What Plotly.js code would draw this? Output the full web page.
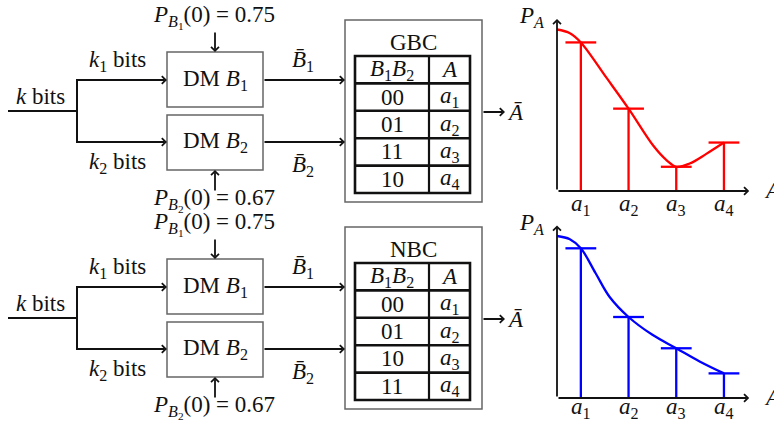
<!DOCTYPE html>
<html><head><meta charset="utf-8">
<script src="https://cdn.plot.ly/plotly-3.0.1.min.js"></script>
<style>html,body{margin:0;padding:0;background:#fff;}</style>
</head><body><div id="chart" style="width:774px;height:423px;"></div>
<script>
// ---- data ----
const levels = ['a1', 'a2', 'a3', 'a4'];
const levelX = [1, 2, 3, 4];
const gbcCodes = ['00', '01', '11', '10'];
const nbcCodes = ['00', '01', '10', '11'];
const gbcProb = [0.92, 0.51, 0.15, 0.30];
const nbcProb = [0.924, 0.50, 0.307, 0.152];
const gbcCurveX = [0.5, 0.77, 1.0, 1.54, 2.0, 2.52, 2.8, 3.0, 3.28, 3.63, 4.0];
const gbcCurveY = [1.0, 0.977, 0.92, 0.70, 0.51, 0.28, 0.19, 0.15, 0.17, 0.23, 0.30];
const nbcCurveX = [0.5, 0.77, 1.0, 1.31, 1.6, 2.0, 2.5, 3.0, 3.5, 4.0];
const nbcCurveY = [1.0, 0.98, 0.924, 0.77, 0.625, 0.50, 0.39, 0.307, 0.224, 0.152];
const pB1 = '0.75', pB2 = '0.67';

// ---- styling helpers ----
const FONT = '"Liberation Serif", "Times New Roman", serif';
const FS = 23;
const INK = '#111';
const lvlHtml = s => '<i>' + s[0] + '</i><sub>' + s.slice(1) + '</sub>';

const shapes = [];
const annotations = [];
function line(x0, y0, x1, y1, w, c) {
  shapes.push({type: 'line', xref: 'x', yref: 'y', x0, y0, x1, y1, line: {color: c || INK, width: w || 2}});
}
function rect(x0, y0, x1, y1, w, c) {
  shapes.push({type: 'rect', xref: 'x', yref: 'y', x0, y0, x1, y1, line: {color: c || '#666', width: w || 1.5}, fillcolor: 'rgba(0,0,0,0)'});
}
function arrow(ax, ay, x, y, xr, yr) {
  annotations.push({xref: xr || 'x', yref: yr || 'y', axref: xr || 'x', ayref: yr || 'y', x, y, ax, ay,
    text: '', showarrow: true, arrowhead: 4, arrowsize: 0.85, arrowwidth: 1.8, arrowcolor: INK});
}
function txt(x, y, text, size, xanchor, xr, yr) {
  annotations.push({xref: xr || 'x', yref: yr || 'y', x, y, text, showarrow: false, xanchor: xanchor || 'center', yanchor: 'middle',
    font: {family: FONT, size: size || FS, color: INK}});
}

function panel(oy, title, codes) {
  // input split
  line(8, 111 + oy, 77, 111 + oy);
  line(77, 79 + oy, 77, 143 + oy);
  arrow(76, 80 + oy, 167, 80 + oy);
  arrow(76, 142 + oy, 167, 142 + oy);
  txt(40, 96 + oy, '<i>k</i> bits');
  txt(117, 61 + oy, '<i>k</i><sub>1</sub> bits');
  txt(117, 163 + oy, '<i>k</i><sub>2</sub> bits');
  // DM boxes
  rect(167, 52 + oy, 263, 107 + oy);
  rect(167, 115 + oy, 263, 170 + oy);
  txt(215, 80 + oy, 'DM <i>B</i><sub>1</sub>');
  txt(215, 142 + oy, 'DM <i>B</i><sub>2</sub>');
  arrow(215, 31 + oy, 215, 52 + oy);
  arrow(215, 192 + oy, 215, 170 + oy);
  txt(214, 17 + oy, '<i>P</i><sub><i>B</i><sub>1</sub></sub>(0) = ' + pB1);
  txt(214, 200 + oy, '<i>P</i><sub><i>B</i><sub>2</sub></sub>(0) = ' + pB2);
  // outputs
  arrow(263, 80 + oy, 345, 80 + oy);
  arrow(263, 142 + oy, 345, 142 + oy);
  txt(303, 61 + oy, '<i>B\u0304</i><sub>1</sub>');
  txt(303, 166 + oy, '<i>B\u0304</i><sub>2</sub>');
  // mapper box and table
  rect(345, 20 + oy, 482, 202 + oy);
  txt(413, 42 + oy, title);
  const t0 = 56 + oy, rh = 27.4;
  rect(355, t0, 470, t0 + 5 * rh, 2.6, INK);
  for (let k = 1; k < 5; k++) line(355, t0 + k * rh, 470, t0 + k * rh, 2.6);
  line(429, t0, 429, t0 + 5 * rh, 2.2);
  txt(392, t0 + rh / 2, '<i>B</i><sub>1</sub><i>B</i><sub>2</sub>');
  txt(449.5, t0 + rh / 2, '<i>A</i>');
  codes.forEach((c, i) => {
    txt(392, t0 + rh * (i + 1.5), c);
    txt(449.5, t0 + rh * (i + 1.5), lvlHtml(levels[i]));
  });
  arrow(482, 112 + oy, 505, 112 + oy);
  txt(505, 112 + oy, '<i>A\u0304</i>', FS, 'left');
  // plot labels
  txt(531, 17 + oy, '<i>P</i><sub><i>A</i></sub>');
  txt(762, 190 + oy, '<i>A</i>', FS, 'left');
}

panel(0, 'GBC', gbcCodes);
panel(207, 'NBC', nbcCodes);

// ---- curve plots ----
function plotTraces(xa, ya, color, probs, cx, cy, labelY) {
  const sx = [], sy = [];
  levelX.forEach((x, i) => { sx.push(x, x, null); sy.push(0, probs[i], null); });
  arrow(0.5, 0, 4.53, 0, xa, ya);
  arrow(0.5, 0, 0.5, 1.065, xa, ya);
  levelX.forEach((x, i) => txt(x, labelY, lvlHtml(levels[i]), FS, 'center', xa, 'y'));
  return [
    {x: sx, y: sy, xaxis: xa, yaxis: ya, mode: 'lines', line: {color, width: 2.3}, hoverinfo: 'skip', cliponaxis: false},
    {x: levelX, y: probs, xaxis: xa, yaxis: ya, mode: 'markers', cliponaxis: false,
      marker: {symbol: 'line-ew', size: 22, color, line: {color, width: 2.3}}},
    {x: cx, y: cy, xaxis: xa, yaxis: ya, mode: 'lines', cliponaxis: false,
      line: {color, width: 2.3, shape: 'spline', smoothing: 1}}
  ];
}
const data = [].concat(
  plotTraces('x2', 'y2', '#ff0000', gbcProb, gbcCurveX, gbcCurveY, 205),
  plotTraces('x3', 'y3', '#0000ff', nbcProb, nbcCurveX, nbcCurveY, 408)
);

const W = 774, H = 423, ppx = 47.7;
const xDom = [557 / W, (557 + 4.1 * ppx) / W];
function subX(anchor) {
  return {domain: xDom, range: [0.5, 4.6], anchor, showticklabels: false,
    showgrid: false, zeroline: false, showline: false, ticks: '', fixedrange: true};
}
function subY(anchor, base, perUnit) {
  const top = base - 1.08 * perUnit;
  return {domain: [(H - base) / H, (H - top) / H], range: [0, 1.08], anchor,
    showgrid: false, zeroline: false, showline: false, showticklabels: false, ticks: '', fixedrange: true};
}

const layout = {
  width: W, height: H, margin: {l: 0, r: 0, t: 0, b: 0},
  paper_bgcolor: '#fff', plot_bgcolor: 'rgba(0,0,0,0)', showlegend: false,
  xaxis: {domain: [0, 1], range: [0, W], visible: false, fixedrange: true},
  yaxis: {domain: [0, 1], range: [H, 0], visible: false, fixedrange: true},
  xaxis2: subX('y2'), yaxis2: subY('x2', 191, 161.5),
  xaxis3: subX('y3'), yaxis3: subY('x3', 398, 162),
  shapes, annotations
};
Plotly.newPlot('chart', data, layout, {staticPlot: true, displayModeBar: false});
</script></body></html>
